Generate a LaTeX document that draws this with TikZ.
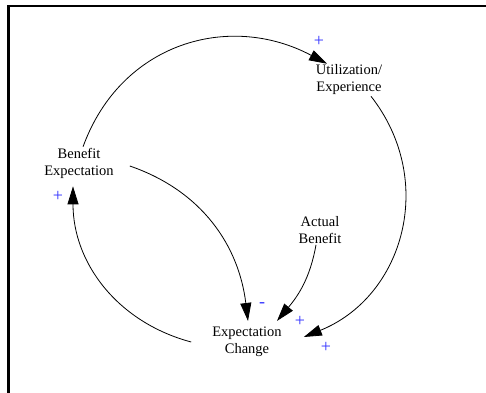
\documentclass[tikz,border=0pt]{standalone}
\usepackage{fontspec}
\setmainfont{Liberation Serif}
\usetikzlibrary{arrows.meta}
\definecolor{polblue}{RGB}{50,50,255}
\begin{document}
\begin{tikzpicture}[x=1pt,y=1pt,
  var/.style={align=center, inner sep=1pt, font=\fontsize{14.5}{17}\selectfont},
  link/.style={line width=0.8pt, -{Triangle[length=18pt,width=11pt]}},
  pol/.style={text=polblue, font=\fontsize{18}{18}\selectfont, inner sep=0pt}]
\useasboundingbox (0,0) rectangle (486,392);
\draw[line width=2.5pt] (8.5,-30) -- (8.5,386) -- (520,386);
\node[var] (be) at (79,229) {Benefit\\Expectation};
\node[var] (ue) at (349,312) {Utilization/\\Experience};
\node[var] (ab) at (320,162) {Actual\\Benefit};
\node[var] (ec) at (247,50) {Expectation\\Change};
\draw[link] (be.76) to[out=70,in=152,looseness=1.1] ([xshift=-22pt]ue.north);
\draw[link] ([xshift=22pt]ue.south) to[out=-52,in=22,looseness=1.1] ([shift={(21pt,5pt)}]ec.east);
\draw[link] ([shift={(15pt,-3pt)}]be.east) to[out=-19,in=97] ([shift={(1pt,5pt)}]ec.north);
\draw[link] ([xshift=-4pt]ab.south) to[out=-100,in=50] ([shift={(30pt,5pt)}]ec.north);
\draw[link] ([xshift=-20pt]ec.west) to[out=165,in=-90] ([shift={(-6pt,-7pt)}]be.south);
\node[pol] (p1) at (319,351) {+};
\node[pol] (p2) at (58,196) {+};
\node[pol] (p3) at (262,87) {-};
\node[pol] (p4) at (300,71) {+};
\node[pol] (p5) at (326,45) {+};
\end{tikzpicture}
\end{document}
